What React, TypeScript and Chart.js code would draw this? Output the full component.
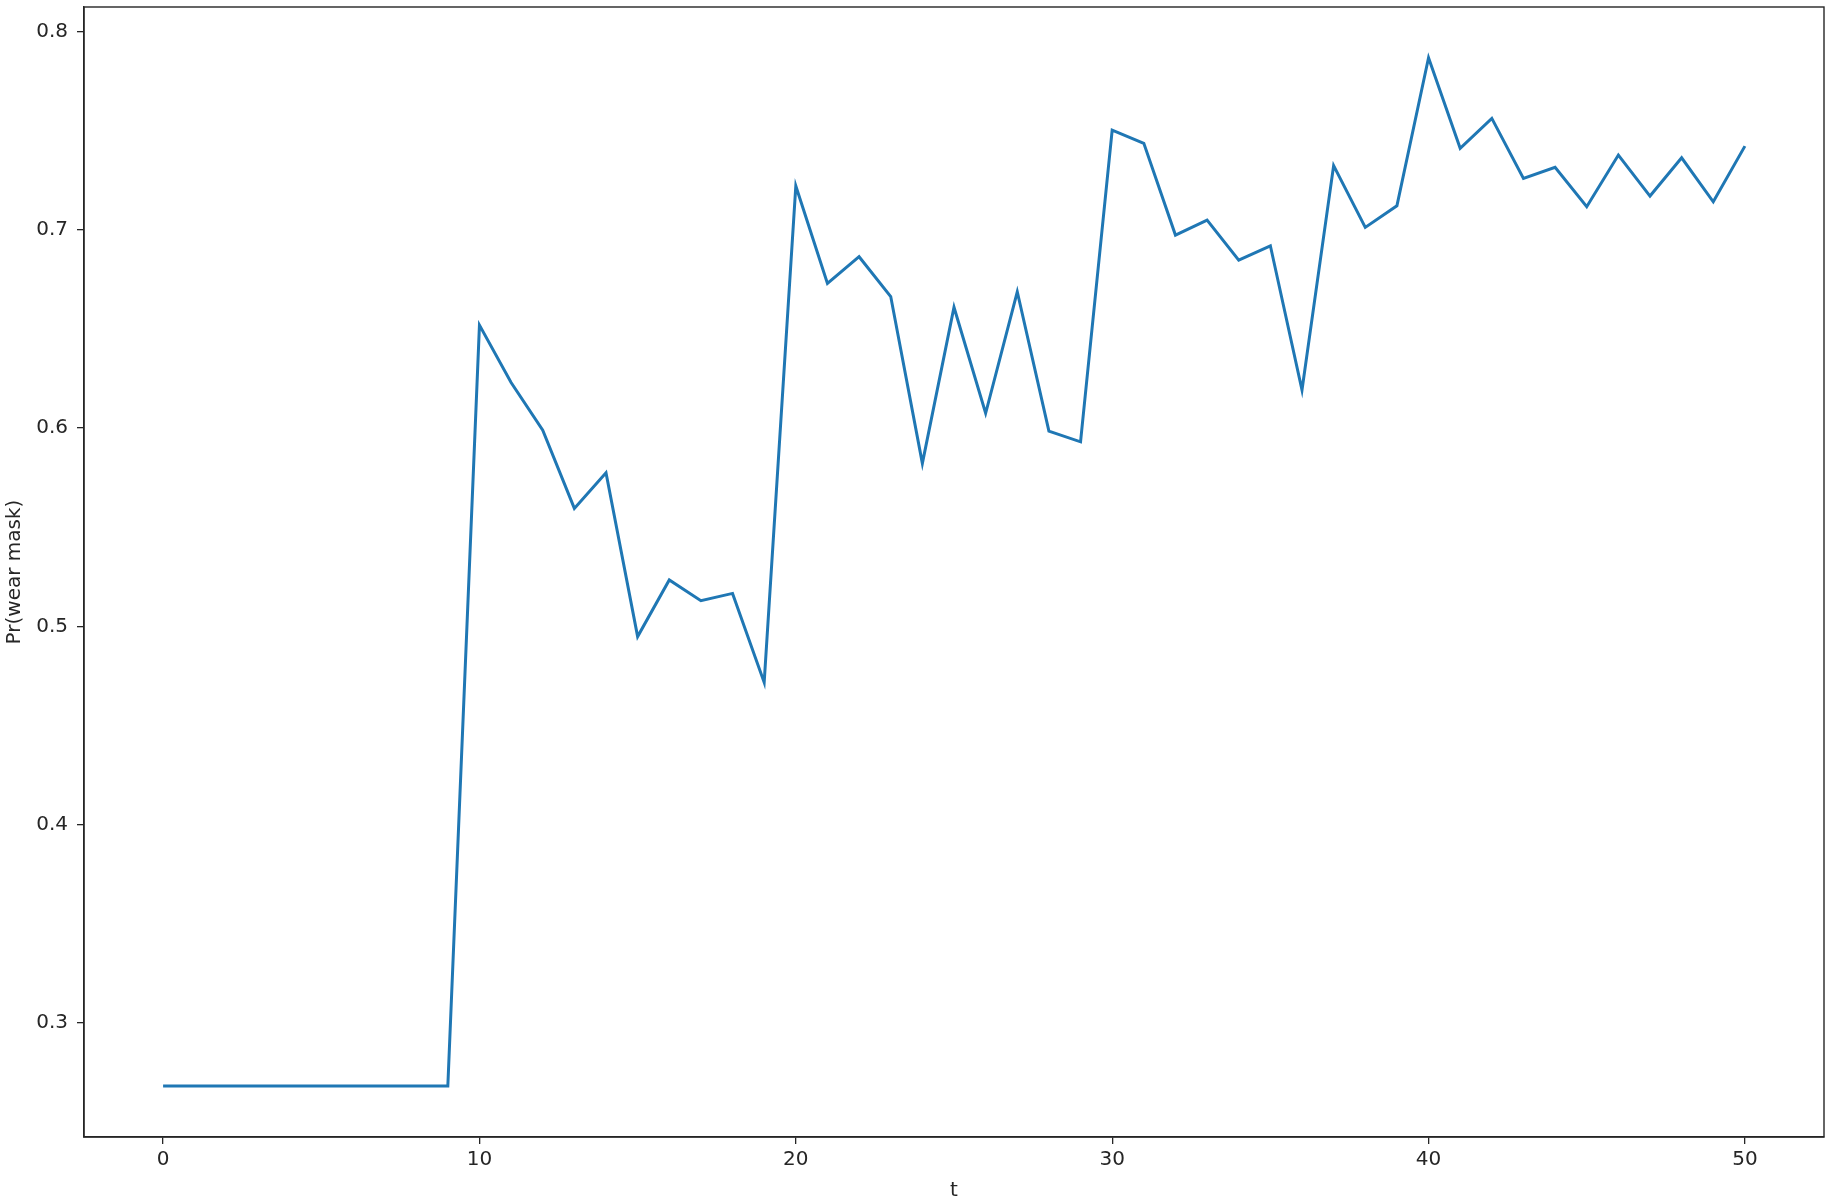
import React, { useEffect, useRef } from "react";
import { Chart, registerables } from "chart.js";

Chart.register(...registerables);

const tValues: number[] = Array.from({ length: 51 }, (_, i) => i);
const prWearMask: number[] = [
  0.268, 0.268, 0.268, 0.268, 0.268, 0.268, 0.268, 0.268, 0.268, 0.268,
  0.652, 0.623, 0.599, 0.5595, 0.5775, 0.4948, 0.5234, 0.5129, 0.5166, 0.4717,
  0.7222, 0.673, 0.6865, 0.6664, 0.5822, 0.661, 0.6075, 0.6688, 0.5985, 0.5931,
  0.7504, 0.7437, 0.6974, 0.705, 0.6848, 0.692, 0.6192, 0.7325, 0.7013, 0.7122,
  0.7869, 0.7412, 0.7563, 0.726, 0.7316, 0.7117, 0.7378, 0.7171, 0.7364, 0.7142,
  0.7423,
];
const xTicks: number[] = [0, 10, 20, 30, 40, 50];
const yTicks: number[] = [0.3, 0.4, 0.5, 0.6, 0.7, 0.8];
const xLabel = "t";
const yLabel = "Pr(wear mask)";

const FONT = "'DejaVu Sans', sans-serif";

const frame = {
  id: "frame",
  afterDraw(chart: any) {
    const { ctx, chartArea } = chart;
    ctx.save();
    ctx.strokeStyle = "#262626";
    ctx.lineWidth = 1.4;
    ctx.strokeRect(chartArea.left, chartArea.top, chartArea.right - chartArea.left, chartArea.bottom - chartArea.top);
    ctx.restore();
  },
};

export default function App() {
  const ref = useRef<HTMLCanvasElement>(null);
  useEffect(() => {
    document.body.style.margin = "0";
    const chart = new Chart(ref.current!, {
      type: "line",
      data: {
        datasets: [
          {
            data: tValues.map((t, i) => ({ x: t, y: prWearMask[i] })),
            borderColor: "#1f77b4",
            borderWidth: 3,
            pointRadius: 0,
            tension: 0,
            fill: false,
          },
        ],
      },
      options: {
        animation: false,
        responsive: false,
        layout: { padding: { left: 0, top: 7, right: 7, bottom: 0 } },
        plugins: { legend: { display: false }, tooltip: { enabled: false } },
        scales: {
          x: {
            type: "linear",
            min: -2.5,
            max: 52.5,
            afterBuildTicks: (s: any) => {
              s.ticks = xTicks.map((v) => ({ value: v }));
            },
            afterFit: (s: any) => {
              s.height = 66;
              s.paddingLeft = 0;
              s.paddingRight = 0;
            },
            grid: { display: true, drawOnChartArea: false, drawTicks: true, tickLength: 7, color: "#262626", lineWidth: 1.3 },
            border: { display: true, color: "#262626", width: 1.4 },
            ticks: { color: "#262626", font: { family: FONT, size: 20 }, padding: 4, maxRotation: 0 },
            title: { display: true, text: xLabel, color: "#262626", font: { family: FONT, size: 20 }, padding: { top: 0, bottom: 0 } },
          },
          y: {
            type: "linear",
            min: 0.2423,
            max: 0.8125,
            afterBuildTicks: (s: any) => {
              s.ticks = yTicks.map((v) => ({ value: v }));
            },
            afterFit: (s: any) => {
              s.width = 84;
              s.paddingTop = 0;
              s.paddingBottom = 0;
            },
            grid: { display: true, drawOnChartArea: false, drawTicks: true, tickLength: 7, color: "#262626", lineWidth: 1.3 },
            border: { display: true, color: "#262626", width: 1.4 },
            ticks: { color: "#262626", font: { family: FONT, size: 20 }, padding: 9, callback: (v: any) => Number(v).toFixed(1) },
            title: { display: true, text: yLabel, color: "#262626", font: { family: FONT, size: 20 }, padding: { top: 3, bottom: 4 } },
          },
        },
      },
      plugins: [frame],
    });
    return () => chart.destroy();
  }, []);
  return (
    <div style={{ position: "absolute", left: 0, top: 0, width: 1831, height: 1203, background: "#fff" }}>
      <canvas ref={ref} width={1831} height={1203} style={{ width: 1831, height: 1203 }} />
    </div>
  );
}
